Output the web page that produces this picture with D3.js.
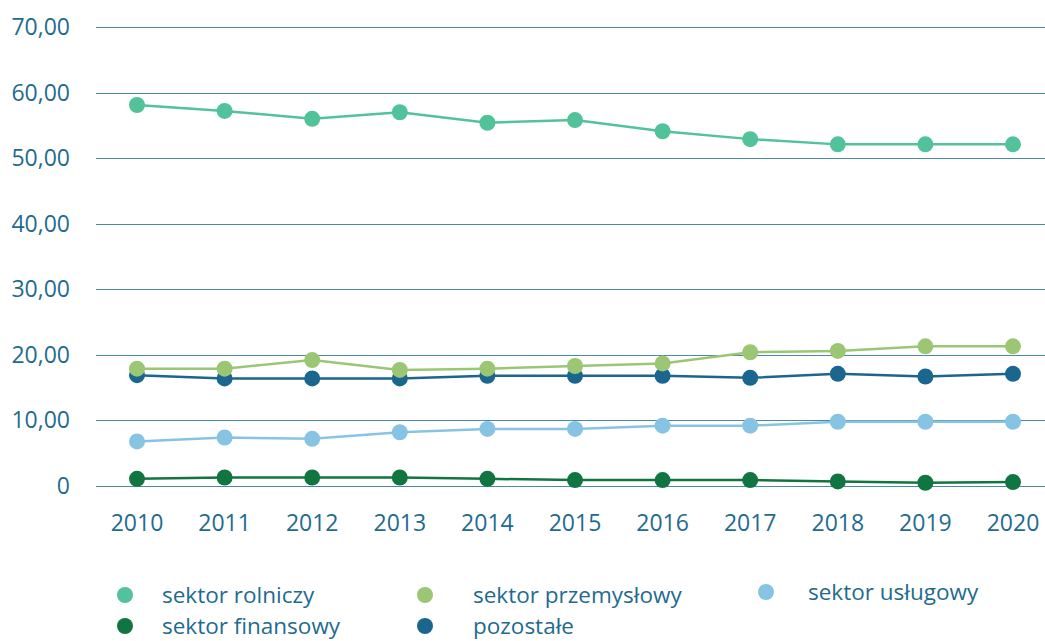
<!DOCTYPE html>
<html>
<head>
<meta charset="utf-8">
<script src="https://cdn.jsdelivr.net/npm/d3@7"></script>
<style>
  body { margin: 0; background: #fff; }
  text { font-family: "Open Sans", "Noto Sans", sans-serif; fill: #1f6b8f; }
</style>
</head>
<body>
<div id="chart"></div>
<script>
const years = [2010, 2011, 2012, 2013, 2014, 2015, 2016, 2017, 2018, 2019, 2020];
const yTicks = [0, 10, 20, 30, 40, 50, 60, 70];

const rolniczy = [58.1, 57.2, 56.0, 57.0, 55.4, 55.8, 54.1, 52.9, 52.1, 52.1, 52.1];
const przemyslowy = [17.9, 17.9, 19.2, 17.7, 17.9, 18.3, 18.7, 20.4, 20.6, 21.3, 21.3];
const uslugowy = [6.8, 7.4, 7.2, 8.2, 8.7, 8.7, 9.2, 9.2, 9.8, 9.8, 9.8];
const finansowy = [1.1, 1.3, 1.3, 1.3, 1.1, 0.9, 0.9, 0.9, 0.7, 0.5, 0.6];
const pozostale = [16.9, 16.4, 16.4, 16.4, 16.8, 16.8, 16.8, 16.5, 17.1, 16.7, 17.1];

const seriesNames = ["sektor rolniczy", "sektor przemysłowy", "sektor usługowy", "sektor finansowy", "pozostałe"];
const seriesColors = ["#52c29b", "#9bc673", "#87c4e4", "#107540", "#1a668e"];
const seriesValues = [rolniczy, przemyslowy, uslugowy, finansowy, pozostale];

const width = 1045, height = 641;

let svg = d3.select("#chart")
  .append("svg")
  .attr("width", width)
  .attr("height", height);

let x = d3.scalePoint()
  .domain(years)
  .range([137, 1013]);

let y = d3.scaleLinear()
  .domain([0, 70])
  .range([486, 27]);

// Grid lines + y labels
let grid = svg.append("g");
grid.selectAll("line")
  .data(yTicks)
  .enter()
  .append("line")
  .attr("x1", 96)
  .attr("x2", width)
  .attr("y1", d => Math.round(y(d)) + 0.5)
  .attr("y2", d => Math.round(y(d)) + 0.5)
  .attr("stroke", "#4a8aa6")
  .attr("stroke-width", 1);

grid.selectAll("text")
  .data(yTicks)
  .enter()
  .append("text")
  .attr("x", 70)
  .attr("y", d => y(d))
  .attr("dy", "0.35em")
  .attr("text-anchor", "end")
  .style("font-size", "23px")
  .text(d => d === 0 ? "0" : d3.format(".2f")(d).replace(".", ","));

// x labels
svg.append("g")
  .selectAll("text")
  .data(years)
  .enter()
  .append("text")
  .attr("x", d => x(d))
  .attr("y", 531)
  .attr("text-anchor", "middle")
  .style("font-size", "23px")
  .text(d => d);

// Lines, drawn back to front
const drawOrder = [4, 1, 2, 3, 0];
drawOrder.forEach(i => {
  const vals = seriesValues[i];
  const data = years.map((yr, j) => ({ year: yr, value: vals[j] }));
  let g = svg.append("g");
  g.append("path")
    .datum(data)
    .attr("d", d3.line()
      .x(d => x(d.year))
      .y(d => y(d.value)))
    .attr("stroke", seriesColors[i])
    .attr("stroke-width", 2.5)
    .style("fill", "none");
  g.selectAll("circle")
    .data(data)
    .enter()
    .append("circle")
    .attr("cx", d => x(d.year))
    .attr("cy", d => y(d.value))
    .attr("r", 8)
    .style("fill", seriesColors[i]);
});

// Legend
const legendPos = [
  { dot: 125, label: 162, y: 595 },
  { dot: 425, label: 473, y: 595 },
  { dot: 766, label: 808, y: 592 },
  { dot: 125, label: 162, y: 626 },
  { dot: 425, label: 473, y: 626 }
];
let legend = svg.append("g");
seriesNames.forEach((name, i) => {
  const p = legendPos[i];
  legend.append("circle")
    .attr("cx", p.dot)
    .attr("cy", p.y)
    .attr("r", 8)
    .style("fill", seriesColors[i]);
  legend.append("text")
    .attr("x", p.label)
    .attr("y", p.y)
    .attr("dy", "0.35em")
    .style("font-size", "22.5px")
    .text(name);
});
</script>
</body>
</html>
